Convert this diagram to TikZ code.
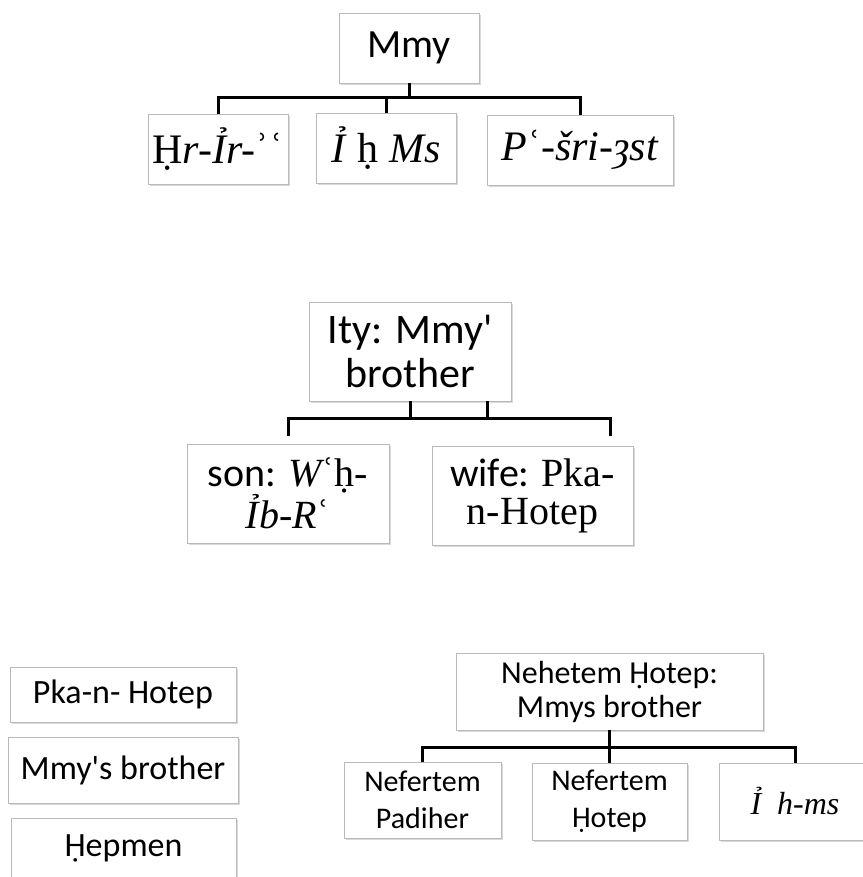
\documentclass[tikz,border=0pt]{standalone}
\usepackage{fontspec}
\setmainfont{Carlito}[Ligatures=TeXOff]
\newfontfamily\egy{Liberation Serif}
\usetikzlibrary{shadows}

\begin{document}
\begin{tikzpicture}[x=1pt,y=-1pt,
box/.style={draw=gray!55,fill=white,line width=0.8pt,inner sep=0pt,align=center,
  drop shadow={shadow xshift=1.5pt,shadow yshift=-2pt,opacity=0.3}},
link/.style={line width=3pt},
kin/.style={font=\egy\fontsize{42}{46}\selectfont}]
\useasboundingbox (0,0) rectangle (862,877);

\node[box,minimum width=140,minimum height=70,font=\fontsize{40}{44}\selectfont] (mmy) at (409,48) {Mmy};
\node[box,kin,minimum width=140,minimum height=70] (hrir) at (218,149) {Ḥ\textit{r-Ỉr-}ʾʿ};
\node[box,kin,minimum width=140,minimum height=70] (ihms) at (386,148) {\textit{Ỉ} ḥ \textit{Ms}};
\node[box,kin,minimum width=186,minimum height=70] (pasri) at (580,150) {\textit{P}ʿ\textit{-šri-ȝst}};
\draw[link] (mmy.south) -- ++(0,14) coordinate (barA);
\draw[link] (hrir.north) |- (barA) -| (pasri.north);
\draw[link] (ihms.north) -- (ihms.north |- barA);

\node[box,minimum width=202,minimum height=99,font=\fontsize{42}{44}\selectfont] (ity) at (410,351.5) {Ity: Mmy'\\brother};
\node[box,minimum width=202,minimum height=99,font=\fontsize{40}{38}\selectfont] (son) at (288,493.5) {son: {\egy\itshape W}{\egy ʿḥ-}\\{\egy\itshape Ỉb-R}{\egy ʿ}};
\node[box,minimum width=201,minimum height=99,font=\fontsize{40}{38}\selectfont] (wife) at (532.5,495.5) {wife: {\egy Pka-}\\{\egy n-Hotep}};
\draw[link] (ity.south) -- ++(0,17) coordinate (barB);
\draw[link] ([xshift=77]ity.south) -- ++(0,17);
\draw[link] ([yshift=8]son.north) |- (barB) -| ([xshift=77.5,yshift=10]wife.north);

\node[box,minimum width=226,minimum height=55,font=\fontsize{34}{36}\selectfont] (pka) at (123,694.5) {Pka-n- Hotep};
\node[box,minimum width=230,minimum height=66,font=\fontsize{34}{36}\selectfont] (mbro) at (123,770) {Mmy's brother};
\node[box,minimum width=225,minimum height=60,font=\fontsize{34}{36}\selectfont] (hep) at (123.5,848) {Ḥepmen};

\node[box,minimum width=307,minimum height=77,font=\fontsize{32}{34}\selectfont] (neh) at (609.5,691.5) {Nehetem Ḥotep:\\Mmys brother};
\node[box,minimum width=157,minimum height=76,font=\fontsize{30}{37}\selectfont] (nefp) at (422.5,800) {Nefertem\\Padiher};
\node[box,minimum width=155,minimum height=77,font=\fontsize{30}{37}\selectfont] (nefh) at (609.5,801.5) {Nefertem\\Ḥotep};
\node[box,minimum width=152,minimum height=77,font=\egy\itshape\fontsize{32}{36}\selectfont] (ihm) at (795,801.5) {Ỉ\ \ h-ms};
\draw[link] (neh.south) -- ++(0,17) coordinate (barC);
\draw[link] (nefp.north) |- (barC) -| (ihm.north);
\draw[link] (nefh.north) -- (nefh.north |- barC);
\end{tikzpicture}
\end{document}
